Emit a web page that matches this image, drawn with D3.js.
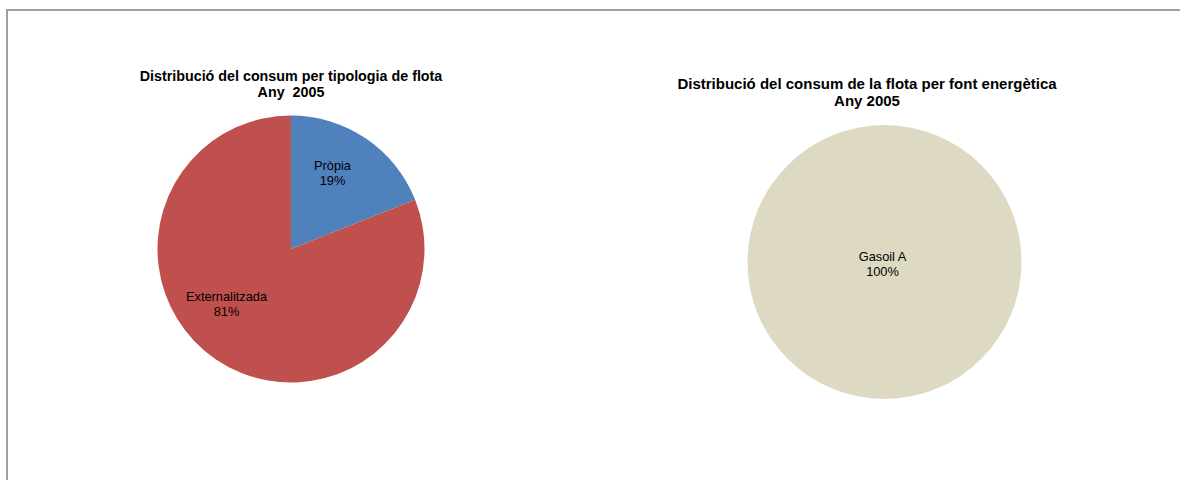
<!DOCTYPE html>
<html>
<head>
<meta charset="utf-8">
<script src="https://cdn.jsdelivr.net/npm/d3@7"></script>
<style>
  html, body { margin: 0; padding: 0; background: #ffffff; }
  svg { display: block; }
  text { font-family: "Liberation Sans", Arial, sans-serif; fill: #000; white-space: pre; }
</style>
</head>
<body>
<svg id="chart" width="1180" height="480"></svg>
<script>
// Consumption split by fleet type, 2005
const fleetCategories = ["Pròpia", "Externalitzada"];
const fleetValues = [19, 81];
const fleetColors = ["#4F81BD", "#C0504D"];
const fleetTitle = ["Distribució del consum per tipologia de flota", "Any  2005"];

// Consumption split by energy source, 2005
const energyCategories = ["Gasoil A"];
const energyValues = [100];
const energyColors = ["#DDD9C3"];
const energyTitle = ["Distribució del consum de la flota per font energètica", "Any 2005"];

const svg = d3.select("#chart");

// Frame around the chart area
svg.append("path")
  .attr("d", "M7,480 L7,10 L1180,10")
  .attr("fill", "none")
  .attr("stroke", "#a0a0a0")
  .attr("stroke-width", 2);

function drawPie(opts) {
  const g = svg.append("g").attr("transform", `translate(${opts.cx},${opts.cy})`);
  const data = opts.categories.map((c, i) => ({ name: c, value: opts.values[i], color: opts.colors[i] }));
  const pie = d3.pie().sort(null).value(d => d.value);
  const arcs = pie(data);
  const arc = d3.arc().innerRadius(0).outerRadius(opts.r);
  const labelArc = d3.arc().innerRadius(opts.labelR).outerRadius(opts.labelR);

  g.selectAll("path.slice")
    .data(arcs)
    .join("path")
    .attr("class", "slice")
    .attr("d", arc)
    .attr("fill", d => d.data.color);

  const total = d3.sum(opts.values);
  const lbl = g.selectAll("g.label")
    .data(arcs)
    .join("g")
    .attr("class", "label")
    .attr("transform", d => {
      const full = (d.endAngle - d.startAngle) >= 2 * Math.PI - 1e-6;
      const [x, y] = full ? [0, 0] : labelArc.centroid(d);
      const n = (opts.nudge && opts.nudge[d.data.name]) || [0, 0];
      return `translate(${x + n[0]},${y + n[1]})`;
    });
  lbl.append("text")
    .attr("text-anchor", "middle")
    .attr("y", -3)
    .style("font-size", "12.8px")
    .text(d => d.data.name);
  lbl.append("text")
    .attr("text-anchor", "middle")
    .attr("y", 12)
    .style("font-size", "12.8px")
    .text(d => Math.round(d.data.value / total * 100) + "%");

  const t = svg.append("text")
    .attr("text-anchor", "middle")
    .style("font-weight", "bold")
    .style("font-size", opts.titleSize + "px");
  opts.title.forEach((line, i) => {
    t.append("tspan")
      .attr("x", opts.titleX)
      .attr("y", opts.titleY + i * opts.titleLead)
      .text(line);
  });
}

drawPie({
  cx: 291, cy: 249, r: 133.5, labelR: 88,
  categories: fleetCategories, values: fleetValues, colors: fleetColors,
  title: fleetTitle, titleX: 291, titleY: 81, titleLead: 16, titleSize: 14.3,
  nudge: { "Pròpia": [-8, -3], "Externalitzada": [-15, -18] }
});

drawPie({
  cx: 884.5, cy: 262, r: 137, labelR: 0,
  categories: energyCategories, values: energyValues, colors: energyColors,
  title: energyTitle, titleX: 867, titleY: 89, titleLead: 17, titleSize: 15,
  nudge: { "Gasoil A": [-2, 2] }
});
</script>
</body>
</html>
